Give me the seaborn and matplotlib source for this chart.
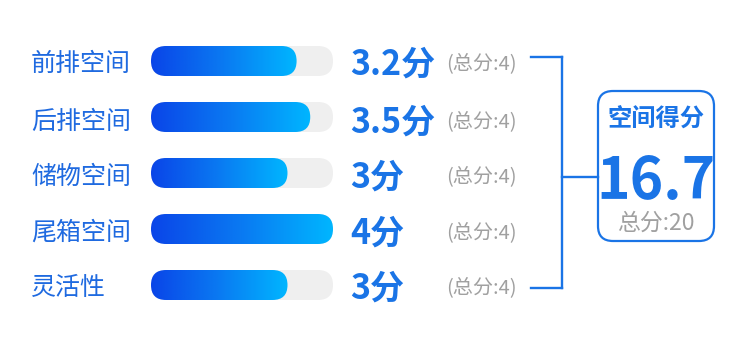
import numpy as np
import pandas as pd
import matplotlib
matplotlib.use('Agg')
import matplotlib.pyplot as plt
import seaborn as sns
from matplotlib.patches import FancyBboxPatch
from matplotlib.lines import Line2D
from matplotlib.colors import LinearSegmentedColormap
from matplotlib.transforms import blended_transform_factory, IdentityTransform

# ---- data ----
categories = ['前排空间', '后排空间', '储物空间', '尾箱空间', '灵活性']
scores = [3.2, 3.5, 3, 4, 3]
max_scores = [4, 4, 4, 4, 4]
score_labels = ['3.2分', '3.5分', '3分', '4分', '3分']
max_labels = ['(总分:4)'] * 5
total_title = '空间得分'
total_score = '16.7'
total_max_label = '总分:20'

# ---- style ----
sns.set_theme(style='white')
plt.rcParams['font.family'] = ['Noto Sans CJK SC', 'DejaVu Sans']

BLUE = '#1a74e6'
LABEL_BLUE = '#1f6ae0'
GRAY_TXT = '#a0a0a0'
TRACK = '#efefef'
grad = LinearSegmentedColormap.from_list('g', ['#0a45e8', '#0a7af2', '#00b6ff'])

W, H = 750, 339
fig = plt.figure(figsize=(W / 100, H / 100), dpi=100)
fig.patch.set_facecolor('white')

def fx(px):
    return px / W

def fy(py):
    return 1 - py / H

row_h = 56
ax = fig.add_axes([fx(151), fy(33 + 5 * row_h), fx(333) - fx(151), 5 * row_h / H])
df = pd.DataFrame({'cat': categories, 'score': scores, 'max': max_scores})
bw = 30 / row_h
sns.barplot(data=df, x='max', y='cat', color=TRACK, width=bw, saturation=1, ax=ax)
sns.barplot(data=df, x='score', y='cat', color=BLUE, width=bw, saturation=1, ax=ax)
ax.set_xlim(0, 4)
ax.set_ylim(4.5, -0.5)
ax.axis('off')
fig.canvas.draw()

patches = list(ax.patches)
n = len(categories)
for i, p in enumerate(patches):
    bb = p.get_window_extent()
    p.set_visible(False)
    r = bb.height / 2
    rp = FancyBboxPatch((bb.x0, bb.y0), bb.width, bb.height,
                        boxstyle=f'round,pad=0,rounding_size={r}',
                        transform=IdentityTransform(), linewidth=0,
                        facecolor=TRACK if i < n else 'none',
                        zorder=1 if i < n else 2)
    ax.add_artist(rp)
    if i >= n:
        x0, y0 = p.get_x(), p.get_y()
        im = ax.imshow(np.linspace(0, 1, 256).reshape(1, -1), cmap=grad,
                       extent=(x0, x0 + p.get_width(), y0 + p.get_height(), y0),
                       aspect='auto', zorder=3, interpolation='bilinear')
        im.set_clip_path(rp)
ax.set_xlim(0, 4)
ax.set_ylim(4.5, -0.5)

tr = blended_transform_factory(fig.transFigure, ax.transData)
row_y_px = [61, 119, 174, 230, 285]
for i, cat in enumerate(categories):
    yy = fy(row_y_px[i])
    fig.text(fx(31), yy, cat, ha='left', va='center_baseline',
             fontsize=18, color=LABEL_BLUE)
    fig.text(fx(350), yy, score_labels[i], ha='left',
             va='center_baseline', fontsize=24.5, fontweight='bold', color=BLUE)
    fig.text(fx(446), yy, max_labels[i], ha='left',
             va='center_baseline', fontsize=14.5, color=GRAY_TXT)

# bracket
lw = 1.7
for xs, ys in [((531, 562), (57, 57)), ((531, 562), (288, 288)),
               ((562, 562), (57, 288)), ((562, 598), (177, 177))]:
    fig.add_artist(Line2D([fx(x) for x in xs], [fy(y) for y in ys],
                          transform=fig.transFigure, color=BLUE, lw=lw,
                          solid_capstyle='projecting'))

# total box
box = FancyBboxPatch((598, H - 241), 116, 150,
                     boxstyle='round,pad=0,rounding_size=15',
                     transform=IdentityTransform(), facecolor='white',
                     edgecolor=BLUE, linewidth=1.6)
fig.add_artist(box)
fig.text(fx(656), fy(117), total_title, ha='center', va='center_baseline',
         fontsize=17.5, fontweight='bold', color=BLUE)
fig.text(fx(656), fy(176), total_score, ha='center', va='center_baseline',
         fontsize=41, fontweight='bold', color=BLUE)
fig.text(fx(656), fy(221), total_max_label, ha='center', va='center_baseline',
         fontsize=16.5, color=GRAY_TXT)

fig.savefig('out.png', dpi=100, facecolor='white')
